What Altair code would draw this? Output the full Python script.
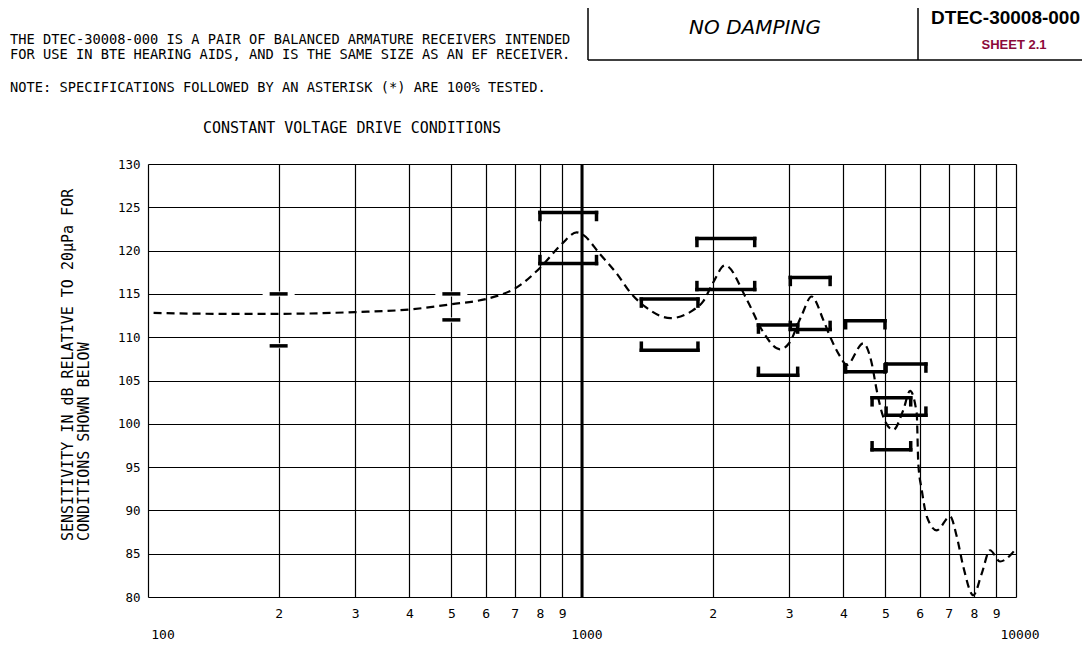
import altair as alt
import pandas as pd

# ---- data ----
curve_freq = [103, 150, 200, 300, 400, 500, 600, 650, 700, 800, 900, 972, 1000, 1100, 1200,
              1300, 1400, 1600, 1800, 1900, 2000, 2136, 2400, 2600, 2859, 3000, 3200, 3382,
              3597, 3727, 3931, 4073, 4448, 4651, 4775, 4945, 5215, 5500, 5700, 5905, 5955,
              6064, 6228, 6567, 7046, 7302, 7561, 7973, 8337, 8712, 9187, 9774, 10000]
curve_db = [112.8, 112.7, 112.7, 112.9, 113.2, 113.8, 114.4, 114.9, 115.6, 118.0, 120.8, 122.1,
            121.9, 119.6, 117.4, 115.0, 113.5, 112.2, 113.1, 114.1, 116.2, 118.3, 114.3, 110.8,
            108.6, 109.3, 112.4, 114.7, 112.0, 110.1, 107.8, 106.8, 109.3, 107.0, 103.9, 100.8,
            99.3, 101.6, 103.8, 101.2, 95.4, 92.4, 89.3, 87.7, 89.3, 87.0, 83.5, 80.2, 82.7,
            85.4, 84.1, 85.0, 85.6]

tick_freq = [200, 200, 500, 500]
tick_db = [115, 109, 115, 112]

br_lo = [800, 1370, 1840, 2550, 3020, 4050, 5020, 4660]
br_hi = [1080, 1850, 2500, 3140, 3730, 4990, 6200, 5720]
br_up = [124.4, 114.4, 121.4, 111.4, 116.9, 111.9, 106.9, 103.0]
br_low = [118.5, 108.5, 115.5, 105.6, 110.9, 106.0, 101.0, 97.0]

grid_freq = [100, 200, 300, 400, 500, 600, 700, 800, 900,
             1000, 2000, 3000, 4000, 5000, 6000, 7000, 8000, 9000, 10000]
y_ticks = [80, 85, 90, 95, 100, 105, 110, 115, 120, 125, 130]
decades = [100, 1000, 10000]
decade_labels = ["100", "1000", "10000"]

MONO = "DejaVu Sans Mono"
BOLD = "Liberation Sans"

xs = alt.Scale(type="log", domain=[100, 10000], nice=False)
ys = alt.Scale(domain=[80, 130], nice=False)

curve_df = pd.DataFrame({"f": curve_freq, "db": curve_db})
tick_df = pd.DataFrame({"f": tick_freq, "db": tick_db})
br_df = pd.DataFrame({"lo": br_lo, "hi": br_hi, "up": br_up, "low": br_low})

base_x = alt.X("f:Q", scale=xs,
               axis=alt.Axis(values=grid_freq, grid=True, ticks=False, domain=False, title=None,
                             labelExpr="indexof([100,1000,10000], datum.value) >= 0 ? '' : substring(toString(datum.value),0,1)",
                             labelFont=MONO, labelFontSize=13, labelColor="black", labelPadding=10,
                             gridColor="black", gridWidth=1.2, gridOpacity=1, labelFlush=False))
base_y = alt.Y("db:Q", scale=ys,
               axis=alt.Axis(values=y_ticks, grid=True, ticks=False, domain=False, title=None,
                             labelFont=MONO, labelFontSize=12.5, labelColor="black", labelPadding=8,
                             gridColor="black", gridWidth=1.2, gridOpacity=1))

axes = alt.Chart(curve_df).mark_point(opacity=0).encode(x=base_x, y=base_y)

rule1000 = alt.Chart(pd.DataFrame({"f": [1000]})).mark_rule(color="black", strokeWidth=3).encode(
    x=alt.X("f:Q", scale=xs))

halo = alt.Chart(tick_df).mark_rule(color="white", strokeWidth=5, xOffset=-16, x2Offset=16).encode(
    x=alt.X("f:Q", scale=xs), x2="f:Q", y=alt.Y("db:Q", scale=ys))
ticks = alt.Chart(tick_df).mark_rule(color="black", strokeWidth=3.5, xOffset=-9, x2Offset=9).encode(
    x=alt.X("f:Q", scale=xs), x2="f:Q", y=alt.Y("db:Q", scale=ys))

BW = 3.5
layers_br = []
for col in ["up", "low"]:
    layers_br.append(alt.Chart(br_df).mark_rule(color="black", strokeWidth=BW, strokeCap="square").encode(
        x=alt.X("lo:Q", scale=xs), x2="hi:Q", y=alt.Y(f"{col}:Q", scale=ys)))
for xcol in ["lo", "hi"]:
    layers_br.append(alt.Chart(br_df).mark_rule(color="black", strokeWidth=BW, strokeCap="square", y2Offset=7).encode(
        x=alt.X(f"{xcol}:Q", scale=xs), y=alt.Y("up:Q", scale=ys), y2="up:Q"))
    layers_br.append(alt.Chart(br_df).mark_rule(color="black", strokeWidth=BW, strokeCap="square", y2Offset=-7).encode(
        x=alt.X(f"{xcol}:Q", scale=xs), y=alt.Y("low:Q", scale=ys), y2="low:Q"))

curve = alt.Chart(curve_df).mark_line(color="black", strokeWidth=2.2, strokeDash=[8, 5],
                                      interpolate="monotone").encode(
    x=alt.X("f:Q", scale=xs), y=alt.Y("db:Q", scale=ys))

dec_layers = []
dec_dx = [15, 5, 4]
for d, lab, dx in zip(decades, decade_labels, dec_dx):
    dec_layers.append(alt.Chart(pd.DataFrame({"f": [d], "t": [lab]})).mark_text(
        font=MONO, fontSize=13, color="black", dx=dx, baseline="middle", align="center").encode(
        x=alt.X("f:Q", scale=xs), y=alt.value(471), text="t:N"))


def txt(text, x, y, size, align="left", color="black", font=MONO, **kw):
    return alt.Chart(pd.DataFrame({"t": [text]})).mark_text(
        font=font, fontSize=size, color=color, align=align, baseline="middle", **kw).encode(
        x=alt.value(x), y=alt.value(y), text="t:N")


def line(x1, y1, x2, y2, w=1.5):
    return alt.Chart(pd.DataFrame({"a": [0]})).mark_rule(color="black", strokeWidth=w).encode(
        x=alt.value(x1), x2=alt.value(x2), y=alt.value(y1), y2=alt.value(y2))


# positions relative to plot origin at page (148,164)
annots = [
    txt("THE DTEC-30008-000 IS A PAIR OF BALANCED ARMATURE RECEIVERS INTENDED", -138, -124, 13.7),
    txt("FOR USE IN BTE HEARING AIDS, AND IS THE SAME SIZE AS AN EF RECEIVER.", -138, -109, 13.7),
    txt("NOTE: SPECIFICATIONS FOLLOWED BY AN ASTERISK (*) ARE 100% TESTED.", -138, -76, 13.7),
    txt("CONSTANT VOLTAGE DRIVE CONDITIONS", 204, -36, 15, align="center"),
    txt("SENSITIVITY IN dB RELATIVE TO 20μPa FOR", -80, 377, 15, angle=270),
    txt("CONDITIONS SHOWN BELOW", -64, 377, 15, angle=270),
    txt("NO DAMPING", 607, -136, 20, align="center", font="DejaVu Sans", fontStyle="italic",
        fontWeight="normal"),
    txt("DTEC-30008-000", 932, -146, 19, align="right", font=BOLD, fontWeight="bold"),
    txt("SHEET 2.1", 866, -119, 13, align="center", color="#8c0a3a", font=BOLD, fontWeight="bold"),
    line(440, -164, 440, -104),
    line(770, -164, 770, -104),
    line(440, -104, 942, -104),
]

chart = alt.layer(axes, rule1000, halo, ticks, *layers_br, curve, *dec_layers, *annots).properties(
    width=868, height=433,
    autosize=alt.AutoSizeParams(type="none"),
    padding={"left": 140, "top": 156, "right": 66, "bottom": 46},
).configure_view(stroke="black", strokeWidth=3).configure(background="white")

chart.save("out.html", embed_options={"renderer": "svg", "actions": False})
